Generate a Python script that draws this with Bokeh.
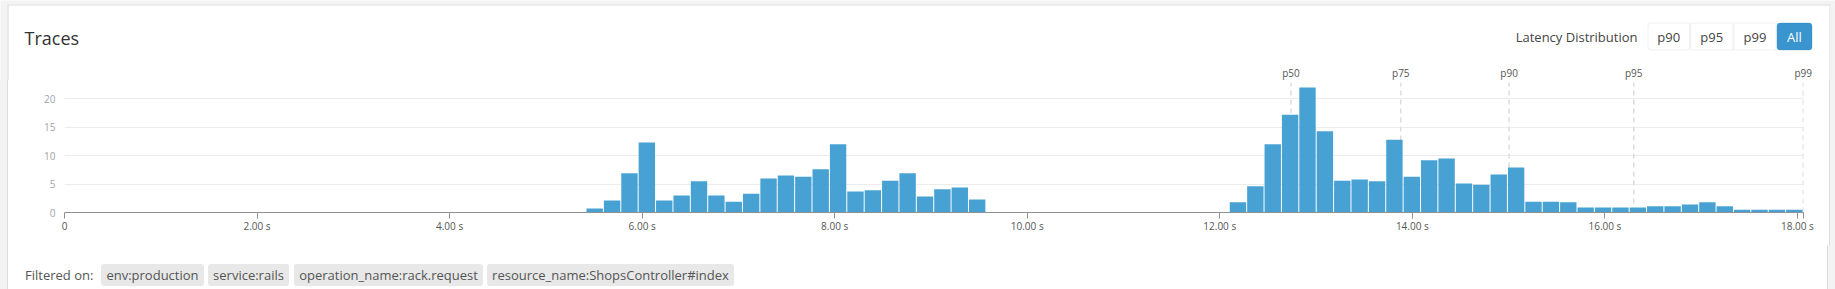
from bokeh.plotting import figure
from bokeh.layouts import column, row
from bokeh.models import Range1d, FixedTicker, ColumnDataSource, BoxAnnotation, Spacer, Div
from bokeh.core.properties import value
from bokeh.embed import file_html
from bokeh.resources import INLINE

# ---------------- data ----------------
title_text = "Traces"
latency_label = "Latency Distribution"
buttons = ["p90", "p95", "p99", "All"]
active_button = "All"
filter_prefix = "Filtered on:"
filters = ["env:production", "service:rails", "operation_name:rack.request",
           "resource_name:ShopsController#index"]

bin_start = 5.422          # left edge of first histogram bin (s)
x_max = 18.063             # end of last bin / axis domain (s)
counts = [
    # 5.42 s .. 9.57 s
    0.7, 2.1, 6.9, 12.3, 2.1, 3.0, 5.5, 3.0, 1.9, 3.3, 6.0, 6.5, 6.3, 7.6, 12.0,
    3.7, 3.9, 5.6, 6.9, 2.8, 4.1, 4.4, 2.3,
    # empty bins
    0, 0, 0, 0, 0, 0, 0, 0, 0, 0, 0, 0, 0, 0,
    # 12.10 s .. 18.06 s
    1.8, 4.6, 12.0, 17.2, 22.0, 14.3, 5.6, 5.8, 5.5, 12.8, 6.3, 9.2, 9.5, 5.1, 4.9,
    6.7, 7.9, 1.9, 1.9, 1.8, 0.9, 0.9, 0.9, 0.9, 1.1, 1.1, 1.4, 1.8, 1.1, 0.5,
    0.5, 0.5, 0.5,
]
percentile_names = ["p50", "p75", "p90", "p95", "p99"]
percentile_values = [12.74, 13.88, 15.005, 16.30, 18.06]

x_ticks = [0, 2, 4, 6, 8, 10, 12, 14, 16, 18]
x_tick_labels = ["0", "2.00 s", "4.00 s", "6.00 s", "8.00 s", "10.00 s",
                 "12.00 s", "14.00 s", "16.00 s", "18.00 s"]
y_ticks = [0, 5, 10, 15, 20]

# ---------------- layout constants ----------------
W, H = 1835, 289
HEAD_H = 80                  # header strip: Y 0..80
MAIN_H = 165                 # chart strip: Y 80..245
FOOT_H = H - HEAD_H - MAIN_H # footer strip: Y 245..289
FL, FR, FB = 64, 1803, 212   # chart frame left/right/bottom (canvas px)
CARD_L, CARD_R = 8, 1829     # white card edges
PX_PER_UNIT = 5.685
K = (FR - FL) / x_max        # px per second

GRAY = "#f3f3f3"
EDGE = "#dcdcdc"
BAR = "#47a2d3"
FONT = "Open Sans"
NOSCROLL = {"overflow": "hidden"}


def hx(X):
    """canvas pixel -> seconds (shared x mapping of all strips)"""
    return (X - FL) / K


def box(fig, X0, X1, Y0, Y1, fill, line=None, radius=0, level="underlay"):
    fig.add_layout(BoxAnnotation(left=hx(X0), right=hx(X1), top=Y0, bottom=Y1,
                                 fill_color=fill, fill_alpha=1.0,
                                 line_color=line, line_width=1,
                                 border_radius=radius, level=level))


# ---------------- header ----------------
head = figure(width=W, height=HEAD_H, output_backend="svg", toolbar_location=None,
              title=None, x_range=Range1d(hx(0), hx(W)), y_range=Range1d(HEAD_H, 0),
              x_axis_type=None, y_axis_type=None, min_border=0, styles=NOSCROLL)
head.outline_line_color = None
head.background_fill_color = "white"
head.border_fill_color = "white"
box(head, -20, W + 20, -20, 4, GRAY, level="image")
box(head, CARD_L - 1, CARD_R + 1, 4, 5, EDGE, level="image")
box(head, -20, CARD_L - 1, 4, HEAD_H + 20, GRAY, level="image")
box(head, CARD_L - 1, CARD_L, 4, HEAD_H + 20, EDGE, level="image")
box(head, CARD_R, CARD_R + 1, 4, HEAD_H + 20, EDGE, level="image")
box(head, CARD_R + 1, W + 20, 4, HEAD_H + 20, GRAY, level="image")
head.text(x=[hx(24)], y=[37], text=[title_text], text_font=value(FONT),
          text_font_size="18px", text_color="#333333", text_baseline="middle",
          text_align="left")
head.text(x=[hx(1637)], y=[36], text=[latency_label], text_font=value(FONT),
          text_font_size="13px", text_color="#444444", text_baseline="middle",
          text_align="right")
btn_edges = [1647, 1689.5, 1733, 1776, 1812]
for i, b in enumerate(buttons):
    active = b == active_button
    box(head, btn_edges[i] + 0.5, btn_edges[i + 1] - 0.5, 22.5, 49.5,
        "#3a94cd" if active else "white", "#2f86be" if active else "#cccccc",
        radius=3 if (i == 0 or active) else 0)
    head.text(x=[hx((btn_edges[i] + btn_edges[i + 1]) / 2)], y=[36], text=[b],
              text_font=value(FONT), text_font_size="13px",
              text_color="white" if active else "#444444",
              text_align="center", text_baseline="middle")
# percentile names above the chart, on the chart's own x mapping
pl = ColumnDataSource(dict(x=percentile_values, name=percentile_names,
                           y=[72] * len(percentile_values)))
head.text(x="x", y="y", text="name", source=pl, text_font=value(FONT),
          text_font_size="10px", text_color="#555555", text_align="center",
          text_baseline="middle")

# ---------------- main chart ----------------
y_top = (FB - HEAD_H) / PX_PER_UNIT
seg_top = (FB - 82) / PX_PER_UNIT
p = figure(width=CARD_R - CARD_L, height=MAIN_H, output_backend="svg", toolbar_location=None,
           title=None, x_range=Range1d(0, x_max), y_range=Range1d(0, y_top),
           min_border_left=FL - CARD_L, min_border_right=CARD_R - FR,
           min_border_top=0, min_border_bottom=HEAD_H + MAIN_H - FB, styles=NOSCROLL)
p.outline_line_color = None
p.border_fill_color = "white"
p.background_fill_color = "white"

n = len(counts)
bw = (x_max - bin_start) / n
gap = 1.0 / K
lefts = [bin_start + i * bw for i in range(n)]
rights = [l + bw - gap for l in lefts]
src = ColumnDataSource(dict(left=lefts, right=rights, top=counts, bottom=[0] * n))

psrc = ColumnDataSource(dict(x=percentile_values,
                             y0=[0] * len(percentile_values),
                             y1=[seg_top] * len(percentile_values)))
p.segment(x0="x", y0="y0", x1="x", y1="y1", source=psrc,
          line_color="#dddddd", line_width=1.5, line_dash="5 4")
p.quad(left="left", right="right", top="top", bottom="bottom", source=src,
       fill_color=BAR, line_color=None)

xa = p.xaxis[0]
xa.ticker = FixedTicker(ticks=x_ticks + [x_max])
xa.major_label_overrides = {float(t): l for t, l in zip(x_ticks, x_tick_labels)}
xa.major_label_overrides[float(x_max)] = ""
xa.axis_line_color = "#909090"
xa.major_tick_line_color = "#909090"
xa.major_tick_out = 6
xa.major_tick_in = 0
xa.minor_tick_line_color = None
xa.major_label_standoff = 0
xa.major_label_text_font = FONT
xa.major_label_text_font_size = "10px"
xa.major_label_text_color = "#555555"

ya = p.yaxis[0]
ya.ticker = FixedTicker(ticks=y_ticks)
ya.axis_line_color = None
ya.major_tick_line_color = None
ya.minor_tick_line_color = None
ya.major_tick_out = 0
ya.major_tick_in = 0
ya.major_label_standoff = 9
ya.major_label_text_font = FONT
ya.major_label_text_font_size = "10px"
ya.major_label_text_color = "#a0a4ab"

p.xgrid.grid_line_color = None
p.ygrid.ticker = FixedTicker(ticks=y_ticks[1:])
p.ygrid.grid_line_color = "#ececec"
p.ygrid.grid_line_width = 1

main_row = row(
    Spacer(width=CARD_L - 1, height=MAIN_H, styles={"background-color": GRAY}),
    Spacer(width=1, height=MAIN_H, styles={"background-color": EDGE}),
    p,
    Spacer(width=1, height=MAIN_H, styles={"background-color": EDGE}),
    Spacer(width=W - CARD_R - 1, height=MAIN_H, styles={"background-color": GRAY}),
    spacing=0, styles=NOSCROLL,
)

# ---------------- footer (HTML) ----------------
FOOT_Y0 = HEAD_H + MAIN_H
tag_edges = [(101, 204), (208, 289), (294, 483), (487, 734)]
tag_top, tag_bottom = 264, 286
parts = [
    f'<div style="position:relative;width:{W}px;height:{FOOT_H}px;overflow:hidden;'
    f'background:{GRAY};font-family:\'{FONT}\';font-size:13px;color:#555555;margin:0;padding:0;">',
    f'<div style="position:absolute;left:{CARD_L - 1}px;top:0;width:{CARD_R - CARD_L}px;'
    f'height:{FOOT_H + 10}px;background:white;border-left:1px solid {EDGE};'
    f'border-right:1px solid {EDGE};"></div>',
    f'<span style="position:absolute;left:25px;top:{tag_top - FOOT_Y0}px;'
    f'height:{tag_bottom - tag_top}px;line-height:{tag_bottom - tag_top}px;'
    f'white-space:nowrap;">{filter_prefix}</span>',
]
for (a, b), t in zip(tag_edges, filters):
    parts.append(
        f'<span style="position:absolute;left:{a}px;top:{tag_top - FOOT_Y0}px;width:{b - a}px;'
        f'height:{tag_bottom - tag_top}px;line-height:{tag_bottom - tag_top}px;'
        f'text-align:center;background:#e8e8e8;border-radius:3px;white-space:nowrap;">{t}</span>')
parts.append('</div>')
foot = Div(text="".join(parts), width=W, height=FOOT_H, margin=0,
           styles={"margin": "0", "padding": "0", "overflow": "hidden"})

root = column(head, main_row, foot, spacing=0, styles=NOSCROLL)
open("out.html", "w").write(file_html(root, INLINE))
